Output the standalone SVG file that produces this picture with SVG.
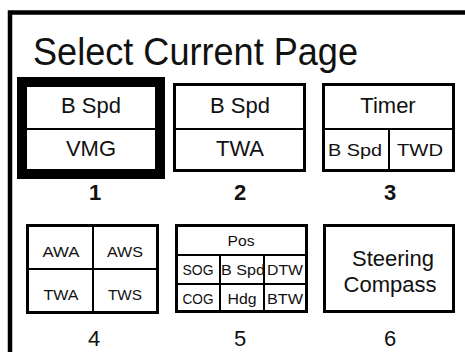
<svg xmlns="http://www.w3.org/2000/svg" width="465" height="352" viewBox="0 0 465 352">
<style>
.bx{fill:#fff;stroke:#000;stroke-width:3}
.dv{stroke:#000;stroke-width:2;fill:none}
text{font-family:"Liberation Sans",Arial,sans-serif;fill:#111;text-anchor:middle}
.t22{font-size:22px}
.t18{font-size:17px}
.t14{font-size:14px}
.num{font-size:22px}
.b{font-weight:bold}
</style>
<rect x="0" y="0" width="465" height="352" fill="#fff"/>
<rect x="10" y="12.5" width="470" height="360" fill="none" stroke="#000" stroke-width="4.5"/>
<text x="33" y="65" style="font-size:38px;text-anchor:start" textLength="325" lengthAdjust="spacingAndGlyphs">Select Current Page</text>

<g id="page1">
<rect x="22" y="82" width="138" height="92" fill="#fff" stroke="#000" stroke-width="10"/>
<line class="dv" x1="27" y1="129" x2="155" y2="129"/>
<text class="t22" x="91" y="113">B Spd</text>
<text class="t22" x="91" y="156">VMG</text>
<text class="num b" x="95" y="200">1</text>
</g>

<g id="page2">
<rect class="bx" x="174.5" y="84.5" width="130" height="86"/>
<line class="dv" x1="174" y1="129" x2="305" y2="129"/>
<text class="t22" x="240" y="113">B Spd</text>
<text class="t22" x="240" y="156">TWA</text>
<text class="num b" x="240" y="200">2</text>
</g>

<g id="page3">
<rect class="bx" x="323.5" y="84.5" width="130" height="86"/>
<line class="dv" x1="323" y1="129" x2="454" y2="129"/>
<line class="dv" x1="389" y1="129" x2="389" y2="170"/>
<text class="t22" x="388" y="113">Timer</text>
<text class="t18" x="355" y="156" textLength="54" lengthAdjust="spacingAndGlyphs">B Spd</text>
<text class="t18" x="420" y="156" textLength="46" lengthAdjust="spacingAndGlyphs">TWD</text>
<text class="num b" x="390" y="200">3</text>
</g>

<g id="page4">
<rect class="bx" x="27.5" y="225.5" width="130" height="87"/>
<line class="dv" x1="27" y1="269" x2="157" y2="269"/>
<line class="dv" x1="93" y1="225" x2="93" y2="313"/>
<text class="t14" x="61" y="257" textLength="37" lengthAdjust="spacingAndGlyphs">AWA</text>
<text class="t14" x="125" y="257" textLength="36" lengthAdjust="spacingAndGlyphs">AWS</text>
<text class="t14" x="61" y="300" textLength="35" lengthAdjust="spacingAndGlyphs">TWA</text>
<text class="t14" x="125" y="300" textLength="34" lengthAdjust="spacingAndGlyphs">TWS</text>
<text class="num" x="94" y="346">4</text>
</g>

<g id="page5">
<rect class="bx" x="176.5" y="225.5" width="130" height="86"/>
<line class="dv" x1="176" y1="255" x2="306" y2="255"/>
<line class="dv" x1="176" y1="284" x2="306" y2="284"/>
<line class="dv" x1="220" y1="255" x2="220" y2="312"/>
<line class="dv" x1="264" y1="255" x2="264" y2="312"/>
<text class="t14" x="241" y="246" textLength="27" lengthAdjust="spacingAndGlyphs">Pos</text>
<text class="t14" x="198" y="275" textLength="31" lengthAdjust="spacingAndGlyphs">SOG</text>
<text class="t14" x="243" y="275" textLength="44" lengthAdjust="spacingAndGlyphs">B Spd</text>
<text class="t14" x="285" y="275" textLength="36" lengthAdjust="spacingAndGlyphs">DTW</text>
<text class="t14" x="198" y="304" textLength="31" lengthAdjust="spacingAndGlyphs">COG</text>
<text class="t14" x="242" y="304" textLength="29" lengthAdjust="spacingAndGlyphs">Hdg</text>
<text class="t14" x="285" y="304" textLength="36" lengthAdjust="spacingAndGlyphs">BTW</text>
<text class="num" x="240" y="346">5</text>
</g>

<g id="page6">
<rect class="bx" x="324.5" y="225.5" width="129" height="86"/>
<text class="t22" x="393" y="266">Steering</text>
<text class="t22" x="390" y="292">Compass</text>
<text class="num" x="390" y="346">6</text>
</g>
</svg>
